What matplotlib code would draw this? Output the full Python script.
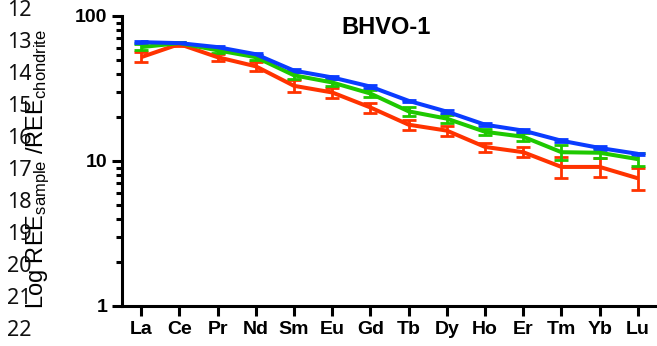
import matplotlib
matplotlib.use("Agg")
import matplotlib.pyplot as plt
from matplotlib.ticker import LogLocator, FixedLocator, NullFormatter, FixedFormatter

plt.rcParams['font.family'] = ['Liberation Sans', 'DejaVu Sans']
plt.rcParams['mathtext.fontset'] = 'custom'
plt.rcParams['mathtext.rm'] = 'Liberation Sans'
plt.rcParams['mathtext.it'] = 'Liberation Sans'
plt.rcParams['mathtext.bf'] = 'Liberation Sans:bold'

elements = ["La", "Ce", "Pr", "Nd", "Sm", "Eu", "Gd", "Tb", "Dy", "Ho", "Er", "Tm", "Yb", "Lu"]

blue_vals = [66, 65, 61, 54.5, 42, 37.7, 32.6, 26, 21.9, 17.8, 16.2, 13.8, 12.3, 11.2]
blue_err = [1.3, 1.0, 1.0, 0.9, 0.8, 0.7, 0.6, 0.5, 0.4, 0.4, 0.3, 0.3, 0.3, 0.2]

green_vals = [61, 65, 58, 52, 39, 34.8, 29.2, 22, 19.6, 15.9, 14.7, 11.5, 11.4, 10.3]
green_err = [3.1, 1.3, 2.3, 2.1, 2.0, 1.7, 1.5, 1.5, 1.2, 0.8, 0.9, 1.4, 0.9, 1.0]

red_vals = [52, 64, 52, 45, 33, 29.7, 23.4, 17.8, 16.2, 12.5, 11.5, 9.1, 9.1, 7.6]
red_err = [4.2, 2.0, 3.1, 3.2, 3.3, 2.4, 1.9, 1.4, 1.3, 0.9, 0.9, 1.5, 1.4, 1.3]

line_numbers = [str(n) for n in range(12, 23)]

W, H = 657, 346
fig = plt.figure(figsize=(W / 100, H / 100), dpi=100)
ax = fig.add_axes([122 / W, 1 - 306 / H, 535 / W, 290 / H])

x = list(range(len(elements)))
series = [(red_vals, red_err, "#ff3300"),
          (green_vals, green_err, "#1ec800"),
          (blue_vals, blue_err, "#0a3cff")]
for vals, err, col in series:
    ax.errorbar(x, vals, yerr=err, color=col, lw=2.9, elinewidth=2.0,
                capsize=4.8, capthick=2.0, solid_capstyle='butt')

ax.set_yscale('log')
ax.set_ylim(1, 100)
ax.set_xlim(-0.5, 13.5)

for s in ['top', 'right']:
    ax.spines[s].set_visible(False)
for s in ['left', 'bottom']:
    ax.spines[s].set_linewidth(2.2)

ax.yaxis.set_major_locator(FixedLocator([1, 10, 100]))
ax.yaxis.set_major_formatter(FixedFormatter(["1", "10", "100"]))
ax.yaxis.set_minor_locator(LogLocator(base=10, subs=range(2, 10)))
ax.yaxis.set_minor_formatter(NullFormatter())
ax.set_xticks(x)
ax.set_xticklabels(elements)

ax.tick_params(axis='both', which='major', length=7.5, width=2.2, pad=3,
               labelsize=14, direction='out')
ax.tick_params(axis='y', which='minor', length=4.5, width=2.2, direction='out')
for lab in ax.get_xticklabels() + ax.get_yticklabels():
    lab.set_fontweight('bold')

fig.text(386 / W, 1 - 28 / H, "BHVO-1", ha='center', va='center',
         fontsize=17, fontweight='bold')

fig.text(25 / W, 1 - 169 / H, r"Log REE$_{\mathrm{sample}}$ /REE$_{\mathrm{chondrite}}$",
         rotation=90, ha='left', va='center', fontsize=17)

y0, dy = 11, 31.9
for i, t in enumerate(line_numbers):
    fig.text(7 / W, 1 - (y0 + i * dy) / H, t, ha='left', va='center',
             fontsize=15.5, family=['Noto Sans', 'DejaVu Sans'], color='#111111')

fig.savefig("out.png", dpi=100)
